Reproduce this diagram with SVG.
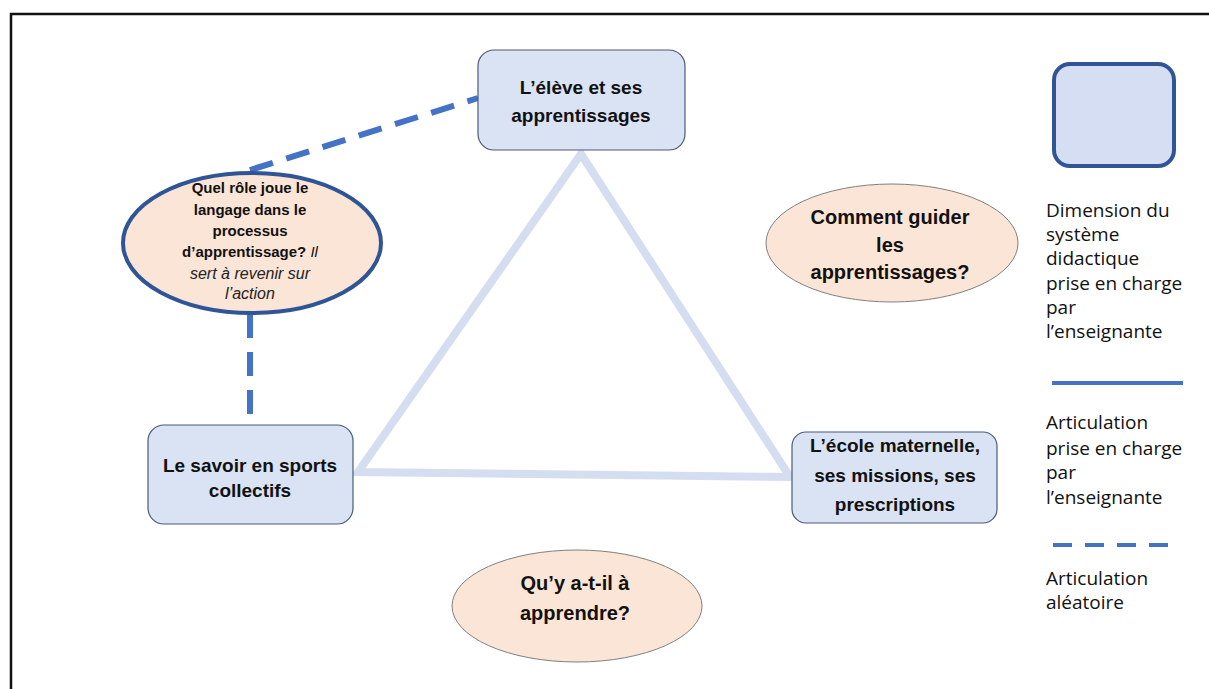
<svg xmlns="http://www.w3.org/2000/svg" width="1209" height="689" viewBox="0 0 1209 689">
<style>
.box{fill:#dae3f3;stroke:#4a5a78;stroke-width:1.2}
.q{fill:#fbe5d6;stroke:#808080;stroke-width:1}
.t{font-family:"Liberation Sans","Noto Sans",sans-serif;font-weight:bold;font-size:19px;fill:#111;text-anchor:middle}
.s{font-family:"Liberation Sans","Noto Sans",sans-serif;font-weight:bold;font-size:15px;fill:#111;text-anchor:middle}
.si{font-family:"Liberation Sans","Noto Sans",sans-serif;font-style:italic;font-size:16px;fill:#222;text-anchor:middle}
.l{font-family:"Open Sans","Liberation Sans",sans-serif;font-size:19px;fill:#111}
.dash{stroke:#4472c4;stroke-width:6;fill:none;stroke-dasharray:24 14}
.tri{stroke:#d5def0;stroke-width:8;fill:none;stroke-linejoin:miter}
</style>
<rect width="1209" height="689" fill="#fff"/>
<path d="M11 689 V14 H1209" fill="none" stroke="#111" stroke-width="2.5"/>
<g id="connectors">
<polygon class="tri" points="581,154 358,472 790,477"/>
<line class="dash" x1="250" y1="170" x2="478" y2="98"/>
<line class="dash" x1="250" y1="314" x2="250" y2="425"/>
</g>
<g id="eleve">
<rect class="box" x="478" y="50" width="207" height="100" rx="16"/>
<text class="t" x="581" y="94">L’élève et ses</text>
<text class="t" x="581" y="122">apprentissages</text>
</g>
<g id="savoir">
<rect class="box" x="148" y="425" width="205" height="99" rx="16"/>
<text class="t" x="250" y="472">Le savoir en sports</text>
<text class="t" x="250" y="497">collectifs</text>
</g>
<g id="ecole">
<rect class="box" x="792" y="432" width="205" height="91" rx="14"/>
<text class="t" x="895" y="452">L’école maternelle,</text>
<text class="t" x="895" y="482">ses missions, ses</text>
<text class="t" x="895" y="511">prescriptions</text>
</g>
<g id="langage">
<ellipse cx="252" cy="243" rx="129" ry="70" fill="#fbe5d6" stroke="#2f5597" stroke-width="4"/>
<text class="s" x="250" y="193">Quel rôle joue le</text>
<text class="s" x="250" y="215">langage dans le</text>
<text class="s" x="250" y="236">processus</text>
<text class="s" x="250" y="257">d’apprentissage? <tspan style="font-weight:normal;font-style:italic">Il</tspan></text>
<text class="si" x="250" y="279">sert à revenir sur</text>
<text class="si" x="250" y="299">l’action</text>
</g>
<g id="guider">
<ellipse class="q" cx="892" cy="243" rx="126" ry="59"/>
<text class="t" x="890" y="224" style="font-size:20px">Comment guider</text>
<text class="t" x="890" y="252" style="font-size:20px">les</text>
<text class="t" x="890" y="279" style="font-size:20px">apprentissages?</text>
</g>
<g id="apprendre">
<ellipse class="q" cx="577" cy="606" rx="125" ry="56"/>
<text class="t" x="575" y="590" style="font-size:20px">Qu’y a-t-il à</text>
<text class="t" x="575" y="620" style="font-size:20px">apprendre?</text>
</g>
<g id="legend">
<rect x="1054" y="64" width="120" height="102" rx="16" fill="#d5def2" stroke="#2f5597" stroke-width="4"/>
<text class="l" x="1046" y="217">Dimension du</text>
<text class="l" x="1046" y="241">système</text>
<text class="l" x="1046" y="265">didactique</text>
<text class="l" x="1046" y="290">prise en charge</text>
<text class="l" x="1046" y="314">par</text>
<text class="l" x="1046" y="338">l’enseignante</text>
<line x1="1052" y1="383" x2="1183" y2="383" stroke="#4472c4" stroke-width="4"/>
<text class="l" x="1046" y="429">Articulation</text>
<text class="l" x="1046" y="455">prise en charge</text>
<text class="l" x="1046" y="479">par</text>
<text class="l" x="1046" y="504">l’enseignante</text>
<line x1="1053" y1="545" x2="1170" y2="545" stroke="#4472c4" stroke-width="4" stroke-dasharray="19 13"/>
<text class="l" x="1046" y="585">Articulation</text>
<text class="l" x="1046" y="609">aléatoire</text>
</g>
</svg>
